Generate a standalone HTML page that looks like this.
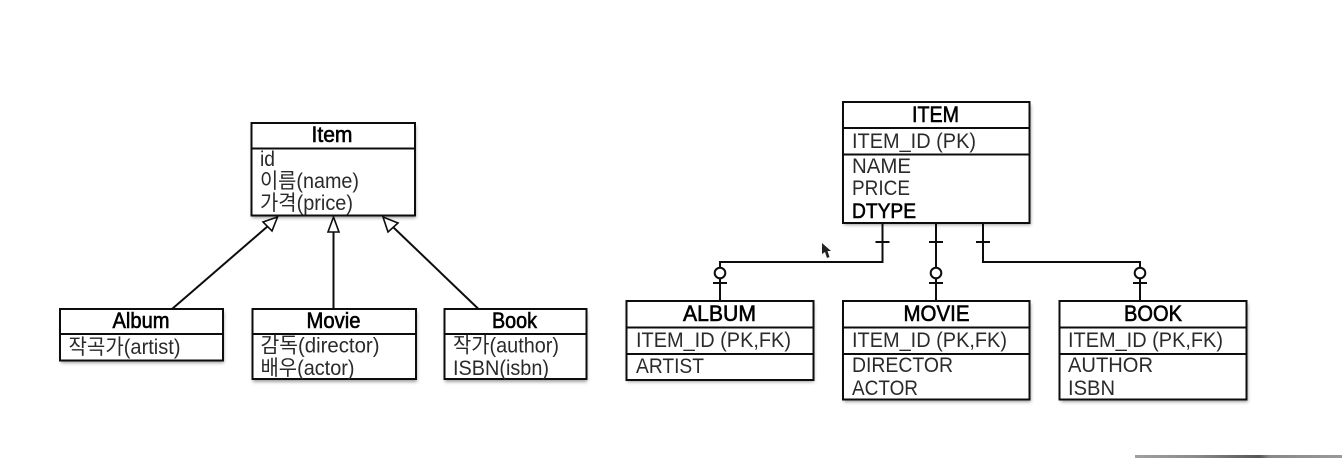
<!DOCTYPE html>
<html lang="ko">
<head>
<meta charset="utf-8">
<title>Item diagram</title>
<style>
html,body{margin:0;padding:0;background:#fff;width:1342px;height:458px;overflow:hidden}
svg{display:block}
text{font-family:"Liberation Sans","Noto Sans CJK KR","NanumGothic",sans-serif;font-size:21px;fill:#2c2c2c}
text.h{fill:#000;font-size:22px;stroke:#000;stroke-width:.6px}
text.b{fill:#000;font-size:21px;stroke:#000;stroke-width:.6px}
.box{fill:#fff;stroke:#0d0d0d;stroke-width:2}
.sh{fill:#555;opacity:.55;filter:url(#s)}
.l{stroke:#0d0d0d;stroke-width:2;fill:none}
.a{stroke:#0d0d0d;stroke-width:1.6;fill:#fff}
</style>
</head>
<body>
<svg width="1342" height="458" viewBox="0 0 1342 458" xmlns="http://www.w3.org/2000/svg">
<defs>
<filter id="s" x="-10%" y="-10%" width="120%" height="130%"><feGaussianBlur stdDeviation="1.5"/></filter>
<filter id="t" x="-5%" y="-5%" width="110%" height="110%"><feGaussianBlur stdDeviation="0.35"/></filter>
<linearGradient id="g" x1="0" x2="1" y1="0" y2="0">
<stop offset="0" stop-color="#a0a0a0"/><stop offset=".3" stop-color="#8a8a8a"/><stop offset=".6" stop-color="#555"/><stop offset=".65" stop-color="#888"/><stop offset="1" stop-color="#999"/>
</linearGradient>
</defs>
<g filter="url(#t)">
<!-- shadows -->
<rect class="sh" x="252" y="126" width="164" height="92"/>
<rect class="sh" x="61" y="312" width="163" height="51"/>
<rect class="sh" x="253" y="312" width="164" height="70"/>
<rect class="sh" x="445" y="312" width="142" height="70"/>
<rect class="sh" x="844" y="105" width="187" height="120"/>
<rect class="sh" x="627" y="304" width="187" height="78"/>
<rect class="sh" x="844" y="304" width="187" height="98"/>
<rect class="sh" x="1061" y="304" width="187" height="98"/>

<!-- left connectors -->
<line class="l" x1="172" y1="309" x2="268" y2="226"/>
<line class="l" x1="333.5" y1="309" x2="333.5" y2="232"/>
<line class="l" x1="478.5" y1="309" x2="393" y2="227"/>
<polygon class="a" points="277.5,217 263,222 272,231"/>
<polygon class="a" points="333.5,217 328,232 339,232"/>
<polygon class="a" points="383,217 398,223 388,232"/>

<!-- left boxes -->
<rect class="box" x="251.5" y="123" width="163.5" height="92.5"/>
<line class="l" x1="251.5" y1="148.5" x2="415" y2="148.5"/>
<rect class="box" x="60" y="309" width="163" height="51.5"/>
<line class="l" x1="60" y1="334" x2="223" y2="334"/>
<rect class="box" x="252.5" y="309" width="163.5" height="70"/>
<line class="l" x1="252.5" y1="334" x2="416" y2="334"/>
<rect class="box" x="444.5" y="309" width="142" height="70"/>
<line class="l" x1="444.5" y1="334" x2="586.5" y2="334"/>

<!-- left text -->
<text class="h" x="311.5" y="142" textLength="41" lengthAdjust="spacingAndGlyphs">Item</text>
<text x="260" y="166" textLength="15" lengthAdjust="spacingAndGlyphs">id</text>
<text x="260" y="188" textLength="99" lengthAdjust="spacingAndGlyphs">이름(name)</text>
<text x="260" y="210" textLength="93" lengthAdjust="spacingAndGlyphs">가격(price)</text>
<text class="h" x="112.5" y="328" textLength="57" lengthAdjust="spacingAndGlyphs">Album</text>
<text x="68.5" y="354" textLength="112" lengthAdjust="spacingAndGlyphs">작곡가(artist)</text>
<text class="h" x="306.5" y="328" textLength="54" lengthAdjust="spacingAndGlyphs">Movie</text>
<text x="260.5" y="352.5" textLength="119" lengthAdjust="spacingAndGlyphs">감독(director)</text>
<text x="260.5" y="375" textLength="94" lengthAdjust="spacingAndGlyphs">배우(actor)</text>
<text class="h" x="492" y="328" textLength="45" lengthAdjust="spacingAndGlyphs">Book</text>
<text x="453" y="352.5" textLength="106" lengthAdjust="spacingAndGlyphs">작가(author)</text>
<text x="453" y="375" textLength="96" lengthAdjust="spacingAndGlyphs">ISBN(isbn)</text>

<!-- right connectors -->
<polyline class="l" points="882.5,223 882.5,262 720,262 720,301"/>
<line class="l" x1="936" y1="223" x2="936" y2="301"/>
<polyline class="l" points="983,223 983,262 1140,262 1140,301"/>
<line class="l" x1="875.5" y1="242" x2="889.5" y2="242"/>
<line class="l" x1="929" y1="242" x2="943" y2="242"/>
<line class="l" x1="976" y1="242" x2="990" y2="242"/>
<line class="l" x1="713" y1="283" x2="727" y2="283"/>
<line class="l" x1="929" y1="283" x2="943" y2="283"/>
<line class="l" x1="1133" y1="283" x2="1147" y2="283"/>
<circle cx="720" cy="273" r="5.3" fill="#fff" stroke="#0d0d0d" stroke-width="2"/>
<circle cx="936" cy="273" r="5.3" fill="#fff" stroke="#0d0d0d" stroke-width="2"/>
<circle cx="1140" cy="273" r="5.3" fill="#fff" stroke="#0d0d0d" stroke-width="2"/>

<!-- right boxes -->
<rect class="box" x="843" y="102" width="186.5" height="121"/>
<line class="l" x1="843" y1="128" x2="1029.5" y2="128"/>
<line class="l" x1="843" y1="154.5" x2="1029.5" y2="154.5"/>
<rect class="box" x="626.5" y="301" width="187" height="79"/>
<line class="l" x1="626.5" y1="327.5" x2="813.5" y2="327.5"/>
<line class="l" x1="626.5" y1="354" x2="813.5" y2="354"/>
<rect class="box" x="843" y="301" width="186.5" height="98.5"/>
<line class="l" x1="843" y1="327.5" x2="1029.5" y2="327.5"/>
<line class="l" x1="843" y1="354" x2="1029.5" y2="354"/>
<rect class="box" x="1059.5" y="301" width="187" height="98.5"/>
<line class="l" x1="1059.5" y1="327.5" x2="1246.5" y2="327.5"/>
<line class="l" x1="1059.5" y1="354" x2="1246.5" y2="354"/>

<!-- right text -->
<text class="h" x="912" y="122" textLength="47" lengthAdjust="spacingAndGlyphs">ITEM</text>
<text x="852" y="148" textLength="124" lengthAdjust="spacingAndGlyphs">ITEM_ID (PK)</text>
<text x="852" y="173" textLength="59" lengthAdjust="spacingAndGlyphs">NAME</text>
<text x="852" y="195" textLength="58" lengthAdjust="spacingAndGlyphs">PRICE</text>
<text class="b" x="852" y="218" textLength="64" lengthAdjust="spacingAndGlyphs">DTYPE</text>
<text class="h" x="683" y="321" textLength="73" lengthAdjust="spacingAndGlyphs">ALBUM</text>
<text x="636" y="347" textLength="155" lengthAdjust="spacingAndGlyphs">ITEM_ID (PK,FK)</text>
<text x="636" y="373" textLength="68" lengthAdjust="spacingAndGlyphs">ARTIST</text>
<text class="h" x="903.5" y="321" textLength="66" lengthAdjust="spacingAndGlyphs">MOVIE</text>
<text x="852" y="347" textLength="155" lengthAdjust="spacingAndGlyphs">ITEM_ID (PK,FK)</text>
<text x="852" y="372" textLength="101" lengthAdjust="spacingAndGlyphs">DIRECTOR</text>
<text x="852" y="395" textLength="66" lengthAdjust="spacingAndGlyphs">ACTOR</text>
<text class="h" x="1124" y="321" textLength="58" lengthAdjust="spacingAndGlyphs">BOOK</text>
<text x="1068" y="347" textLength="155" lengthAdjust="spacingAndGlyphs">ITEM_ID (PK,FK)</text>
<text x="1068" y="372" textLength="85" lengthAdjust="spacingAndGlyphs">AUTHOR</text>
<text x="1068" y="395" textLength="47" lengthAdjust="spacingAndGlyphs">ISBN</text>

<!-- cursor -->
<polygon points="822,243 822,254 825,252 827,258 829.5,257 827.5,251 831,251" fill="#222"/>
</g>
<!-- bottom strip -->
<rect x="1135" y="455" width="207" height="3" fill="url(#g)"/>
</svg>
</body>
</html>
